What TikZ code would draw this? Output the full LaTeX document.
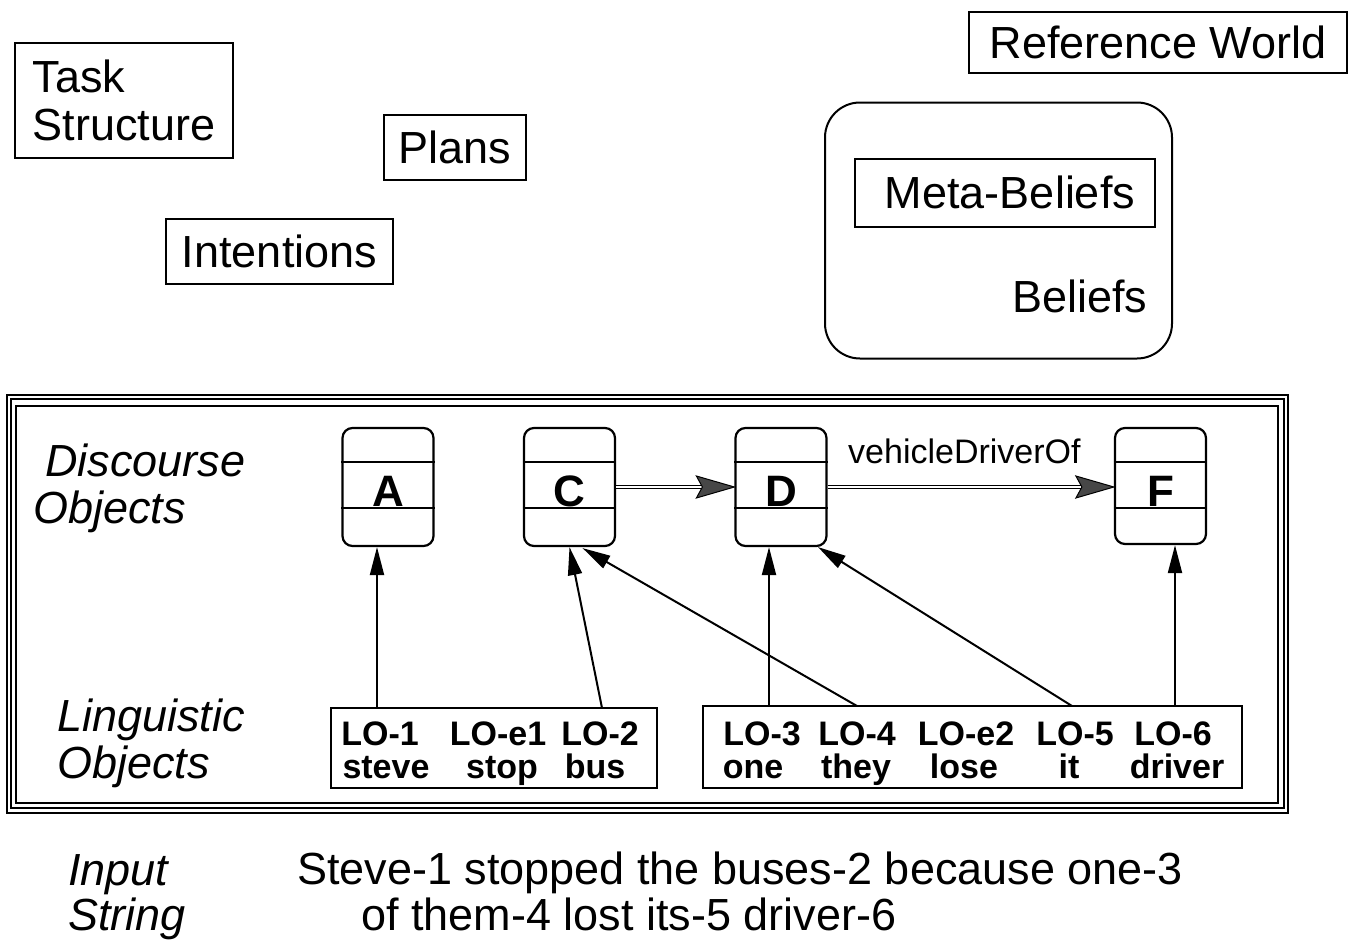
\documentclass[tikz,border=0pt]{standalone}
\usepackage{fontspec}
\setmainfont{Liberation Sans}
\usetikzlibrary{arrows.meta,calc}
\begin{document}
\begin{tikzpicture}[x=1pt,y=-1pt,
  big/.style={font=\fontsize{45}{48}\selectfont},
  bigit/.style={font=\fontsize{45}{48}\selectfont\itshape, anchor=base west, inner sep=0},
  plain/.style={font=\fontsize{45}{48}\selectfont, anchor=base west, inner sep=0},
  lo/.style={font=\fontsize{34}{40}\selectfont\bfseries, anchor=base, inner sep=0},
  box/.style={draw, line width=2pt, inner sep=0},
  dobj/.style={draw, line width=2.2pt, rounded corners=10pt, minimum width=91pt, minimum height=118pt, inner sep=0},
  letter/.style={font=\fontsize{44}{48}\selectfont\bfseries, anchor=base, inner sep=0},
  uparrow/.style={line width=2pt, -{Triangle[length=28pt,width=14pt]}},
  link/.style={double, double distance=2.5pt, line width=1.1pt},
  linkhead/.style={fill=black!72, draw=black, line width=1pt}
]
\useasboundingbox (0,0) rectangle (1358,942);

% upper part: mental state components
\node[box, big, minimum width=378pt, minimum height=61pt] (refworld) at (1158,42.5) {Reference World};
\node[box, big, align=left, minimum width=218pt, minimum height=115pt] (task) at (124,100.5) {Task\\Structure};
\node[box, big, minimum width=142pt, minimum height=65pt] (plans) at (455,147.5) {Plans};
\node[box, big, minimum width=227pt, minimum height=65pt] (intentions) at (279.5,251.5) {Intentions};
\node[box, rounded corners=35pt, minimum width=347pt, minimum height=256pt] (beliefs) at (998.5,230.5) {};
\node[box, big, minimum width=300pt, minimum height=68pt] (meta) at (1005,192.5) {\hspace{10pt}Meta-Beliefs};
\node[plain] (beliefsname) at (1012,312) {Beliefs};

% triple frame around the discourse layer
\draw[line width=1.8pt] (7,395) rectangle (1288,813);
\draw[line width=1.5pt] (11,399) rectangle (1284,808);
\draw[line width=1.8pt] (16,406) rectangle (1278,803);

% layer labels
\node[bigit] (disc1) at (45,476) {Discourse};
\node[bigit] (disc2) at (33,523) {Objects};
\node[bigit] (ling1) at (57,731) {Linguistic};
\node[bigit] (ling2) at (57,778) {Objects};
\node[bigit] (inp1) at (68,885) {Input};
\node[bigit] (inp2) at (68,930) {String};
\node[plain] (sent1) at (297,884) {Steve-1 stopped the buses-2 because one-3};
\node[plain] (sent2) at (361,930) {of them-4 lost its-5 driver-6};

% discourse objects
\node[dobj] (boxA) at (388,487) {};
\node[dobj] (boxC) at (569.5,487) {};
\node[dobj] (boxD) at (781,487) {};
\node[dobj, minimum height=116pt] (boxF) at (1160.5,486) {};
\foreach \b/\t in {boxA/A, boxC/C, boxD/D, boxF/F}{
  \draw[line width=2.2pt] ($(\b.north west)+(0,35)$) -- ($(\b.north east)+(0,35)$);
  \draw[line width=2.2pt] ($(\b.north west)+(0,81)$) -- ($(\b.north east)+(0,81)$);
  \node[letter] (lab\t) at ($(\b.north)+(0,80)$) {\t};
}

% relations between discourse objects
\draw[link] (boxC.east) -- ($(boxD.west)+(-32,0)$);
\fill[linkhead] (boxD.west) -- ++(-38,-11) -- ++(6,11) -- ++(-6,11) -- cycle;
\draw[link] (boxD.east) -- ($(boxF.west)+(-32,1)$);
\fill[linkhead] ($(boxF.west)+(0,1)$) -- ++(-38,-11) -- ++(6,11) -- ++(-6,11) -- cycle;
\node[font=\fontsize{34}{40}\selectfont, anchor=base west, inner sep=0] (vdo) at (848,463) {vehicleDriverOf};

% linguistic objects
\node[box, minimum width=326pt, minimum height=80pt] (lo1box) at (494,748) {};
\node[box, minimum width=539pt, minimum height=82pt] (lo2box) at (972.5,747) {};

\node[lo] (w1a) at (380,745) {LO-1};
\node[lo] (w1b) at (386,778) {steve};
\node[lo] (w2a) at (498,745) {LO-e1};
\node[lo] (w2b) at (502,778) {stop};
\node[lo] (w3a) at (600,745) {LO-2};
\node[lo] (w3b) at (595,778) {bus};

\node[lo] (w4a) at (762,745) {LO-3};
\node[lo] (w4b) at (753,778) {one};
\node[lo] (w5a) at (857,745) {LO-4};
\node[lo] (w5b) at (856,778) {they};
\node[lo] (w6a) at (966,745) {LO-e2};
\node[lo] (w6b) at (964,778) {lose};
\node[lo] (w7a) at (1075,745) {LO-5};
\node[lo] (w7b) at (1069,778) {it};
\node[lo] (w8a) at (1173,745) {LO-6};
\node[lo] (w8b) at (1177,778) {driver};

% links from linguistic objects to discourse objects
\coordinate (t1) at (377,708);
\coordinate (t2) at (602,708);
\coordinate (t3) at (769,706);
\coordinate (t4) at (857,706);
\coordinate (t5) at (1072,706);
\coordinate (t6) at (1175,706);
\draw[uparrow] (t1) -- (t1 |- boxA.south);
\draw[uparrow] (t2) -- (boxC.south);
\draw[uparrow] (t4) -- ($(boxC.south)+(13,1)$);
\draw[uparrow] (t3) -- (t3 |- boxD.south);
\draw[uparrow] (t5) -- ($(boxD.south)+(37,0)$);
\draw[uparrow] (t6) -- (t6 |- boxF.south);
\end{tikzpicture}
\end{document}
